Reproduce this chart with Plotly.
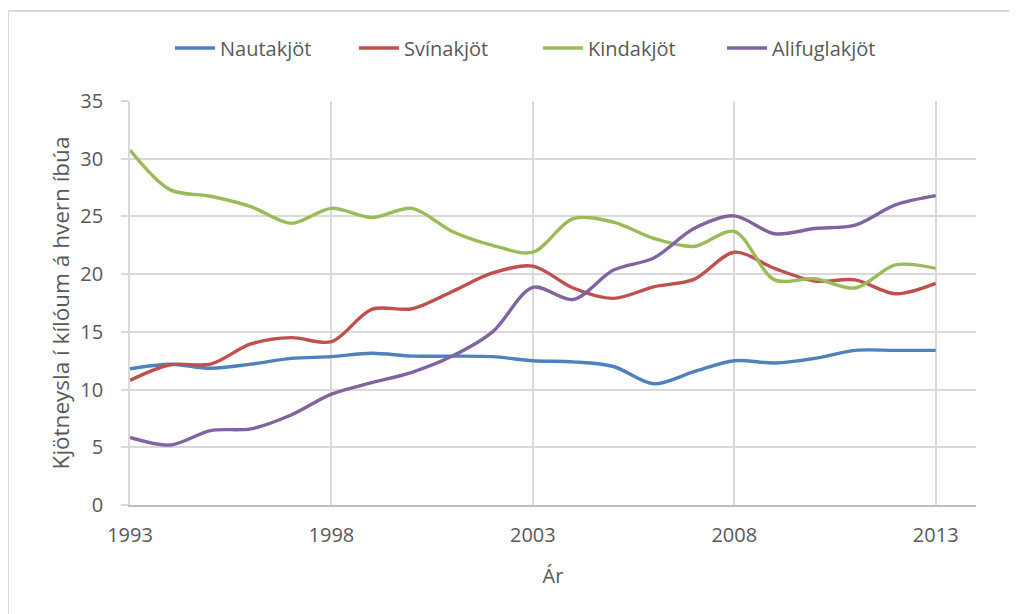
import plotly.graph_objects as go

years = list(range(1993, 2014))
nautakjot = [11.8, 12.2, 11.85, 12.2, 12.7, 12.85, 13.15, 12.9, 12.9, 12.85, 12.5, 12.4, 12.0, 10.5, 11.55, 12.5, 12.3, 12.7, 13.4, 13.4, 13.4]
svinakjot = [10.8, 12.15, 12.2, 13.95, 14.5, 14.15, 16.95, 17.0, 18.5, 20.1, 20.7, 18.8, 17.9, 18.9, 19.55, 21.9, 20.5, 19.4, 19.5, 18.3, 19.2]
kindakjot = [30.75, 27.3, 26.75, 25.85, 24.4, 25.7, 24.9, 25.7, 23.7, 22.5, 21.9, 24.8, 24.5, 23.1, 22.4, 23.7, 19.5, 19.6, 18.8, 20.8, 20.5]
alifuglakjot = [5.85, 5.2, 6.45, 6.6, 7.8, 9.6, 10.6, 11.5, 12.9, 15.0, 18.85, 17.8, 20.35, 21.4, 23.95, 25.05, 23.5, 23.95, 24.25, 26.0, 26.8]

series_names = ["Nautakjöt", "Svínakjöt", "Kindakjöt", "Alifuglakjöt"]
series_values = [nautakjot, svinakjot, kindakjot, alifuglakjot]
colors = ["#4F81BD", "#C0504D", "#9BBB59", "#8064A2"]

x_ticks = [1993, 1998, 2003, 2008, 2013]
y_ticks = [0, 5, 10, 15, 20, 25, 30, 35]

FONT = "Open Sans"
FS = 20
TXT = "#595959"
GRID = "#D9D9D9"

fig = go.Figure()
for name, vals, col in zip(series_names, series_values, colors):
    fig.add_trace(go.Scatter(
        x=years, y=vals, name=name, mode="lines",
        line=dict(color=col, width=3.4, shape="spline", smoothing=0.9),
        hoverinfo="x+y+name",
    ))

# page body has an 8px margin in the browser; compensate so the plot lands where the reference has it
OFF = 8
W, H = 1017, 614
L, T = 130 - OFF, 101 - OFF
pw, ph = 846, 404
R, B = W - L - pw, H - T - ph

def px_x(sx):
    return (sx - OFF - L) / pw

def px_y(sy):
    return (T + ph - (sy - OFF)) / ph

fig.update_layout(
    width=W, height=H,
    margin=dict(l=L, r=R, t=T, b=B, pad=0),
    paper_bgcolor="white", plot_bgcolor="white",
    font=dict(family=FONT, size=FS, color=TXT),
    showlegend=True,
    legend=dict(
        orientation="h", x=px_x(170), xanchor="left",
        y=px_y(48), yanchor="middle",
        font=dict(family=FONT, size=FS, color=TXT),
        entrywidth=129, itemwidth=40,
        bgcolor="rgba(0,0,0,0)",
    ),
    xaxis=dict(
        range=[1993, 2014], tickmode="array", tickvals=x_ticks,
        ticktext=[str(v) for v in x_ticks],
        showgrid=True, gridcolor=GRID, gridwidth=1.8,
        showline=True, linecolor="#BFBFBF", linewidth=2,
        ticks="", zeroline=False,
        title=dict(text="Ár", font=dict(family=FONT, size=FS, color=TXT), standoff=22),
        tickfont=dict(family=FONT, size=FS, color=TXT),
        ticklabelstandoff=11,
    ),
    yaxis=dict(
        range=[0, 35], tickmode="array", tickvals=y_ticks,
        showgrid=True, gridcolor=GRID, gridwidth=1.8,
        showline=True, linecolor=GRID, linewidth=1.8,
        ticks="outside", ticklen=7, tickcolor=GRID, tickwidth=1.8,
        zeroline=False,
        title=dict(text="Kjötneysla í kílóum á hvern íbúa", font=dict(family=FONT, size=22.5, color=TXT), standoff=4),
        tickfont=dict(family=FONT, size=FS, color=TXT),
        ticklabelstandoff=14,
    ),
)

# chart-area border (light grey frame, right/bottom edges fall outside the image)
fig.add_shape(
    type="rect", xref="paper", yref="paper",
    x0=px_x(8), x1=px_x(W + 40),
    y0=px_y(H + 40), y1=px_y(11),
    line=dict(color=GRID, width=2), fillcolor="rgba(0,0,0,0)", layer="below",
)

fig.write_html("out.html")
